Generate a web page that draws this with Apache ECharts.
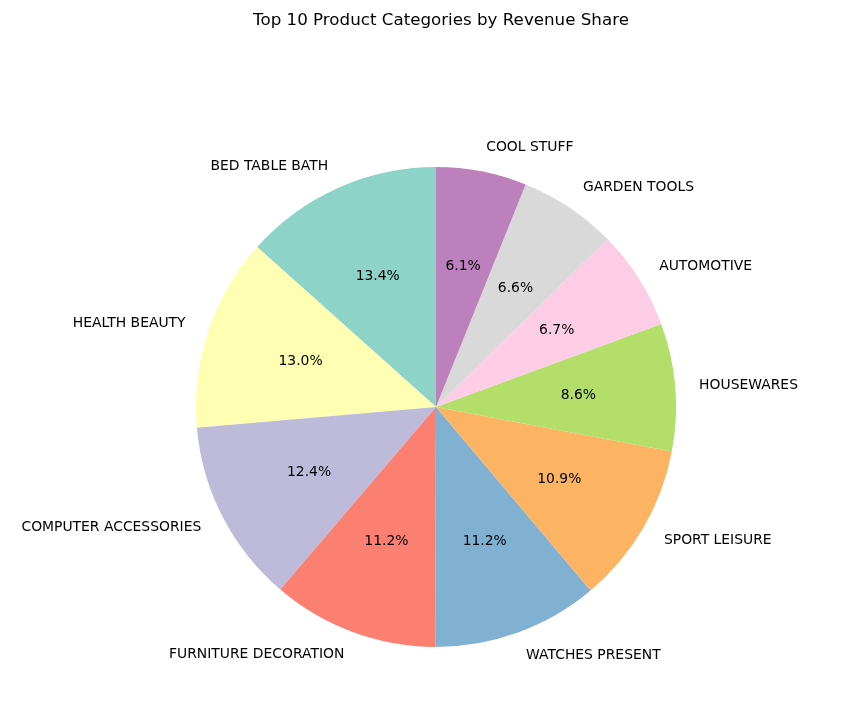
<!DOCTYPE html>
<html>
<head>
<meta charset="utf-8">
<script src="https://cdn.jsdelivr.net/npm/echarts@6/dist/echarts.min.js"></script>
<style>
  html, body { margin: 0; padding: 0; background: #fff; }
  #main { width: 863px; height: 710px; }
</style>
</head>
<body>
<div id="main"></div>
<script>
var categories = ['BED TABLE BATH', 'HEALTH BEAUTY', 'COMPUTER ACCESSORIES', 'FURNITURE DECORATION',
    'WATCHES PRESENT', 'SPORT LEISURE', 'HOUSEWARES', 'AUTOMOTIVE', 'GARDEN TOOLS', 'COOL STUFF'];
var shares = [13.4, 13.0, 12.4, 11.2, 11.2, 10.9, 8.6, 6.7, 6.6, 6.1];
var colors = ['#8dd3c7', '#ffffb3', '#bebada', '#fb8072', '#80b1d3',
    '#fdb462', '#b3de69', '#fccde5', '#d9d9d9', '#bc80bd'];

var myChart = echarts.init(document.getElementById('main'));

var pieData = [];
for (var i = 0; i < categories.length; i++) {
    pieData.push({ name: categories[i], value: shares[i], itemStyle: { color: colors[i] } });
}

var R = 240;
var center = [436, 407];
var font = 'DejaVu Sans';

var option = {
    animation: false,
    title: {
        text: 'Top 10 Product Categories by Revenue Share',
        left: 436,
        textAlign: 'center',
        top: 7,
        textStyle: { fontFamily: font, fontSize: 16.7, fontWeight: 'normal', color: '#000' }
    },
    series: [
        {
            // slices
            type: 'pie',
            center: center,
            radius: [0, R],
            startAngle: 90,
            clockwise: false,
            avoidLabelOverlap: false,
            silent: true,
            itemStyle: { borderWidth: 0 },
            label: {
                show: true,
                position: 'outside',
                fontFamily: font,
                fontSize: 13.9,
                color: '#000',
                distanceToLabelLine: 0,
                formatter: '{b}'
            },
            labelLine: { show: false, length: 24, length2: 0 },
            data: pieData
        },
        {
            // percent labels at 0.6 R
            type: 'pie',
            center: center,
            radius: [0, R * 1.165],
            startAngle: 90,
            clockwise: false,
            avoidLabelOverlap: false,
            silent: true,
            itemStyle: { color: 'rgba(0,0,0,0)', borderWidth: 0 },
            label: {
                show: true,
                position: 'inside',
                fontFamily: font,
                fontSize: 13.9,
                color: '#000',
                formatter: function (p) { return p.value.toFixed(1) + '%'; }
            },
            labelLine: { show: false },
            data: shares.map(function (v, i) { return { name: categories[i], value: v }; })
        }
    ]
};

myChart.setOption(option);
</script>
</body>
</html>
